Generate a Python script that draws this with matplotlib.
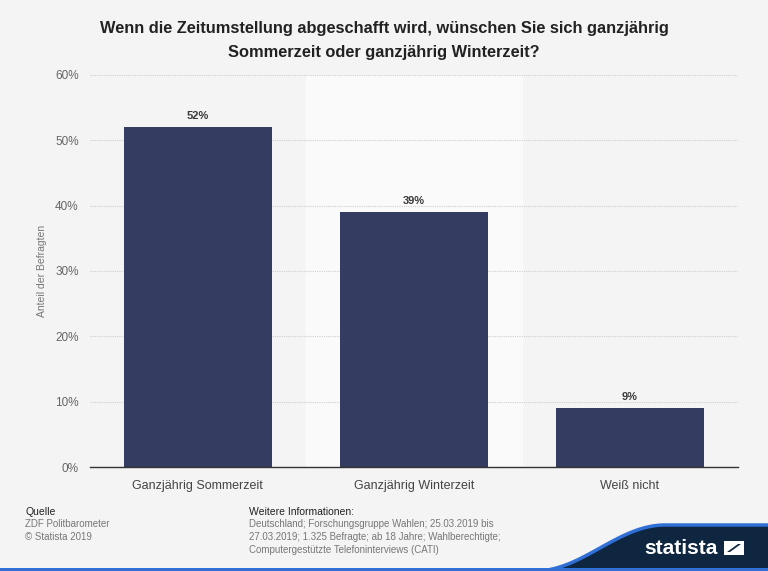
import matplotlib.pyplot as plt
import numpy as np
from matplotlib.patches import Polygon, Rectangle

categories = ["Ganzjährig Sommerzeit", "Ganzjährig Winterzeit", "Weiß nicht"]
shares = [52, 39, 9]
yticks = [0, 10, 20, 30, 40, 50, 60]

plt.rcParams['font.family'] = ['Liberation Sans', 'DejaVu Sans']

bg = '#f4f4f4'
bar_color = '#343c62'
navy = '#0e2640'
blue = '#2f6fd6'

W, H = 768, 571


def fx(px):
    return px / W


def fy(py):
    return 1 - py / H


fig = plt.figure(figsize=(7.68, 5.71), dpi=100, facecolor=bg)
ax = fig.add_axes([0.117, 0.182, 0.844, 0.687], facecolor=bg)

x = np.arange(len(categories))
# lighter band behind the middle category
ax.axvspan(0.5, 1.5, color='#fafafa', zorder=0)
ax.bar(x, shares, width=0.685, color=bar_color, zorder=3)

for xi, v in zip(x, shares):
    ax.text(xi, v + 1.7, f"{v}%", ha='center', va='center', fontsize=8,
            fontweight='bold', color='#3a3a3a')

ax.set_xlim(-0.5, 2.5)
ax.set_ylim(0, 60)
ax.set_yticks(yticks)
ax.set_yticklabels([f"{t}%" for t in yticks], fontsize=8.5, color='#666666')
ax.set_xticks(x)
ax.set_xticklabels(categories, fontsize=9, color='#444444')
ax.tick_params(axis='y', length=0, pad=8)
ax.tick_params(axis='x', length=0, pad=9)
ax.yaxis.grid(True, linestyle=(0, (1, 1)), color='#cfcfcf', linewidth=0.8, zorder=1)
ax.set_axisbelow(True)
for s in ['top', 'right', 'left']:
    ax.spines[s].set_visible(False)
ax.spines['bottom'].set_color('#333333')
ax.spines['bottom'].set_linewidth(1.0)
ax.spines['bottom'].set_zorder(4)
ax.set_ylabel("Anteil der Befragten", fontsize=7.5, color='#777777', labelpad=6)

fig.text(0.5, fy(29), "Wenn die Zeitumstellung abgeschafft wird, wünschen Sie sich ganzjährig",
         ha='center', va='center', fontsize=11.8, fontweight='bold', color='#222222')
fig.text(0.5, fy(52), "Sommerzeit oder ganzjährig Winterzeit?",
         ha='center', va='center', fontsize=11.8, fontweight='bold', color='#222222')

# footer
fig.text(fx(25), fy(512), "Quelle", fontsize=7.5, color='#222222', va='center')
fig.text(fx(25), fy(524), "ZDF Politbarometer", fontsize=7, color='#777777', va='center')
fig.text(fx(25), fy(537), "© Statista 2019", fontsize=7, color='#777777', va='center')
fig.text(fx(249), fy(512), "Weitere Informationen:", fontsize=7.5, color='#222222', va='center')
info = ["Deutschland; Forschungsgruppe Wahlen; 25.03.2019 bis",
        "27.03.2019; 1.325 Befragte; ab 18 Jahre; Wahlberechtigte;",
        "Computergestützte Telefoninterviews (CATI)"]
for i, line in enumerate(info):
    fig.text(fx(249), fy(524 + 13 * i), line, fontsize=7, color='#777777', va='center')

# statista logo wave
t = np.linspace(0, 1, 80)
xs = 535 + 233 * t
s = np.clip(t * 233 / 130, 0, 1)
ys = 571 - 46 * (1 - np.cos(np.pi * s)) / 2
wave = [(fx(a), fy(b)) for a, b in zip(xs, ys)]
fig.patches.append(Polygon(wave + [(1, 0)], closed=True, transform=fig.transFigure,
                           facecolor=navy, edgecolor='none'))
fig.lines.append(plt.Line2D([p[0] for p in wave], [p[1] for p in wave],
                            transform=fig.transFigure, color=blue, linewidth=2.5))
fig.patches.append(Rectangle((0, 0), 1, 3 / H, transform=fig.transFigure,
                             facecolor=blue, edgecolor='none'))
fig.text(fx(718), fy(548), "statista", fontsize=15, fontweight='bold',
         color='white', ha='right', va='center')
fig.patches.append(Rectangle((fx(724), fy(555)), 20 / W, 14 / H,
                             transform=fig.transFigure, facecolor='white', edgecolor='none'))
fig.patches.append(Polygon([(fx(727), fy(552)), (fx(730), fy(552)), (fx(741), fy(544)),
                            (fx(738), fy(544))], closed=True, transform=fig.transFigure,
                           facecolor=navy, edgecolor='none'))

fig.savefig("out.png", dpi=100, facecolor=bg)
